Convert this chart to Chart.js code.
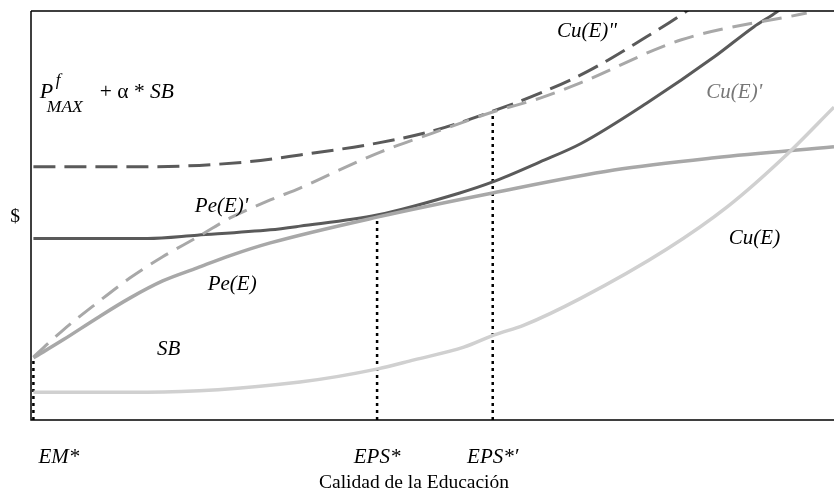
<!DOCTYPE html>
<html>
<head>
<meta charset="utf-8">
<script src="https://cdn.jsdelivr.net/npm/chart.js@4.4.1/dist/chart.umd.min.js"></script>
<style>
  html, body { margin: 0; padding: 0; background: #fff; }
</style>
</head>
<body>
<canvas id="myChart" width="834" height="499"></canvas>
<script>
// education quality (x) and money (y), both on a 0-100 scale
const cuDashedX = [0.3, 14.2, 26.9, 33.5, 43.1, 50.1, 57.5, 63.4, 69.2, 76.0, 81.3, 83.0];
const cuDashedY = [61.9, 61.9, 63.1, 64.8, 67.7, 70.7, 75.5, 79.9, 85.1, 92.9, 99.5, 102];

const peDashedX = [0.3, 4.0, 8.2, 12.3, 16.4, 20.7, 24.8, 29.8, 33.5, 37.6, 43.5, 50.1, 57.5, 63.4, 68.5, 80.9, 96.6];
const peDashedY = [15.4, 22.0, 28.6, 34.7, 39.9, 44.7, 49.4, 53.8, 56.7, 60.4, 65.5, 70.2, 75.3, 78.7, 82.5, 92.9, 99.5];

const cuPrimeX = [0.3, 14.5, 20.7, 29.8, 33.5, 43.1, 53.4, 57.5, 63.4, 68.5, 76.7, 85.1, 90.0, 92.9, 95.0];
const cuPrimeY = [44.4, 44.4, 45.2, 46.5, 47.4, 50.1, 55.5, 58.2, 63.1, 67.6, 77.5, 88.8, 96.1, 99.8, 103];

const peX = [0.3, 4.0, 8.2, 12.3, 16.4, 20.7, 24.8, 29.8, 43.1, 57.5, 72.6, 85.1, 100];
const peY = [15.2, 19.6, 24.9, 29.8, 34.0, 37.2, 40.2, 43.3, 49.6, 55.5, 61.1, 64.1, 66.8];

const cuX = [0.3, 14.4, 33.5, 43.2, 47.7, 53.9, 57.7, 61.4, 68.5, 79.2, 86.7, 93.8, 100];
const cuY = [6.8, 6.8, 9.3, 12.5, 14.7, 17.8, 20.8, 23.2, 29.8, 41.8, 52.1, 64.3, 76.5];

// equilibrium points on the x axis and the height where each dotted line stops
const tickValues = [0.3, 43.1, 57.5];
const tickTops = [15.4, 50.1, 75.5];
const tickLabels = ['EM*', 'EPS*', 'EPS*\u2032'];

const curveLabels = ["Pe(E)'", 'Pe(E)', 'SB', 'Cu(E)"', "Cu(E)'", 'Cu(E)'];
const curveLabelX = [20.4, 22.0, 15.7, 65.5, 84.1, 86.9];
const curveLabelY = [50.9, 31.8, 15.9, 93.6, 78.7, 43.0];

const xTitle = 'Calidad de la Educación';
const yTitle = '$';

const toPoints = (xs, ys) => xs.map((x, i) => ({ x: x, y: ys[i] }));

const curve = (data, color, width, dash) => ({
    data: data,
    borderColor: color,
    borderWidth: width,
    borderDash: dash || [],
    pointRadius: 0,
    cubicInterpolationMode: 'monotone',
    fill: false
});

const datasets = [
    curve(toPoints(cuX, cuY), '#d0d0d0', 3.5),
    curve(toPoints(peX, peY), '#a8a8a8', 3.5),
    curve(toPoints(peDashedX, peDashedY), '#a8a8a8', 3, [20, 10]),
    curve(toPoints(cuPrimeX, cuPrimeY), '#5a5a5a', 3),
    curve(toPoints(cuDashedX, cuDashedY), '#5a5a5a', 3, [22, 9])
];

tickValues.forEach((v, i) => {
    datasets.push({
        data: [{ x: v, y: 0 }, { x: v, y: tickTops[i] }],
        borderColor: '#000',
        borderWidth: 2.5,
        borderDash: [3, 4],
        pointRadius: 0,
        fill: false
    });
});

const serif = '"Liberation Serif", "Times New Roman", serif';

const framePlugin = {
    id: 'frame',
    afterDatasetsDraw(chart) {
        const c = chart.ctx;
        const a = chart.chartArea;
        c.save();
        c.strokeStyle = '#000';
        c.lineWidth = 1.5;
        c.beginPath();
        c.moveTo(a.left, a.top);
        c.lineTo(a.left, a.bottom);
        c.lineTo(a.right, a.bottom);
        c.moveTo(a.left, a.top);
        c.lineTo(a.right, a.top);
        c.stroke();
        c.restore();
    }
};

const textPlugin = {
    id: 'texts',
    afterDraw(chart) {
        const c = chart.ctx;
        const xs = chart.scales.x;
        const ys = chart.scales.y;
        const a = chart.chartArea;
        c.save();
        c.textBaseline = 'alphabetic';
        c.textAlign = 'left';

        // curve names
        c.font = 'italic 21px ' + serif;
        curveLabels.forEach((t, i) => {
            c.fillStyle = i === 4 ? '#777' : '#000';
            c.fillText(t, xs.getPixelForValue(curveLabelX[i]), ys.getPixelForValue(curveLabelY[i]));
        });
        c.fillStyle = '#000';

        // P^f_MAX + alpha * SB
        const px = xs.getPixelForValue(1.1);
        const py = ys.getPixelForValue(78.7);
        c.font = 'italic 22px ' + serif;
        c.fillText('P', px, py);
        c.font = 'italic 17px ' + serif;
        c.fillText('f', px + 16, py - 13);
        c.font = 'italic 17.5px ' + serif;
        c.fillText('MAX', px + 7, py + 14);
        c.font = '21.5px ' + serif;
        const plus = '+ \u03b1 * ';
        c.fillText(plus, px + 60, py);
        const w = c.measureText(plus).width;
        c.font = 'italic 21.5px ' + serif;
        c.fillText('SB', px + 60 + w, py);

        // x tick labels
        c.font = 'italic 21px ' + serif;
        tickValues.forEach((v, i) => {
            const x = xs.getPixelForValue(v);
            if (i === 0) {
                c.textAlign = 'left';
                c.fillText(tickLabels[i], x + 5, a.bottom + 43);
            } else {
                c.textAlign = 'center';
                c.fillText(tickLabels[i], x, a.bottom + 43);
            }
        });

        // axis titles
        c.font = '19.5px ' + serif;
        c.textAlign = 'center';
        c.fillText(xTitle, 414, a.bottom + 68);
        c.fillText(yTitle, a.left - 16, ys.getPixelForValue(48.5));
        c.restore();
    }
};

new Chart(document.getElementById('myChart'), {
    type: 'line',
    data: { datasets: datasets },
    options: {
        responsive: false,
        devicePixelRatio: 1,
        animation: false,
        layout: { padding: { left: 31, top: 11, right: 0, bottom: 79 } },
        scales: {
            x: { type: 'linear', min: 0, max: 100, display: false },
            y: { type: 'linear', min: 0, max: 100, display: false }
        },
        plugins: {
            legend: { display: false },
            tooltip: { enabled: false }
        }
    },
    plugins: [framePlugin, textPlugin]
});
</script>
</body>
</html>
